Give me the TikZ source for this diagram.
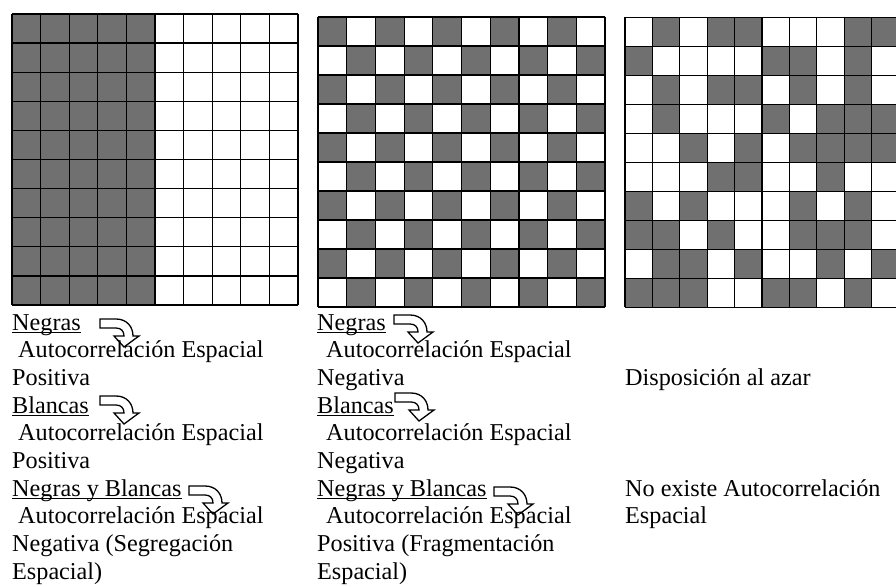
\documentclass[tikz,border=0pt]{standalone}
\usepackage{fontspec}
\setmainfont{Liberation Serif}
\definecolor{cellgray}{RGB}{112,112,112}
\tikzset{
  gridline/.style={draw=black, line width=1.2pt},
  txt/.style={anchor=base west, inner sep=0pt, font=\fontsize{24.2}{27.7}\selectfont},
  ulline/.style={line width=1.1pt},
  curvarrow/.pic={
    \draw[fill=white, line width=1.3pt, line join=miter]
      (0,0) -- (16,0) .. controls (27,0) and (33,8) .. (33,17)
      -- (39,17) -- (24,28) -- (14,17) -- (24,17)
      .. controls (24,12) and (21,9) .. (16,9) -- (0,9) -- cycle;
  }
}
\begin{document}
\begin{tikzpicture}[x=1pt, y=-1pt]
\useasboundingbox (0,0) rectangle (896,586);
\clip (0,0) rectangle (896,586);
\fill[white] (0,0) rectangle (896,586);

% Grid 1: left half dark
\begin{scope}[shift={(12,14)}, x=28.6pt, y=-29.1pt]
  \fill[cellgray] (0,0) rectangle (5,10);
  \foreach \i in {0,...,10} {
    \draw[gridline] (\i,0) -- (\i,10);
    \draw[gridline] (0,\i) -- (10,\i);
  }
\end{scope}

% Grid 2: checkerboard
\begin{scope}[shift={(318,17)}, x=28.7pt, y=-29pt]
  \foreach \r in {0,...,9} {
    \foreach \c in {0,...,9} {
      \pgfmathtruncatemacro\m{mod(\c+\r,2)}
      \ifnum\m=0 \fill[cellgray] (\c,\r) rectangle ++(1,1); \fi
    }
  }
  \foreach \i in {0,...,10} {
    \draw[gridline] (\i,0) -- (\i,10);
    \draw[gridline] (0,\i) -- (10,\i);
  }
\end{scope}

% Grid 3: random
\begin{scope}[shift={(625,17.3)}, x=27.4pt, y=-29pt]
  \foreach \row [count=\r from 0] in {
    {0,1,0,1,1,0,0,0,1,1},
    {1,0,0,0,0,1,1,0,1,0},
    {0,1,0,1,1,0,1,0,1,0},
    {0,1,0,0,0,1,0,1,1,1},
    {0,0,1,0,1,0,1,1,1,1},
    {0,0,0,1,1,0,0,1,0,0},
    {1,0,1,0,0,0,1,0,1,0},
    {1,1,0,1,0,0,1,1,1,0},
    {0,1,1,0,1,0,0,1,0,1},
    {1,1,1,0,0,1,1,0,1,0}} {
    \foreach \v [count=\c from 0] in \row {
      \ifnum\v=1 \fill[cellgray] (\c,\r) rectangle ++(1,1); \fi
    }
  }
  \foreach \i in {0,...,10} {
    \draw[gridline] (\i,0) -- (\i,10);
    \draw[gridline] (0,\i) -- (10,\i);
  }
\end{scope}

% Curved arrows
\pic at (100,319) {curvarrow};
\pic at (100,396) {curvarrow};
\pic at (189,486) {curvarrow};
\pic at (394,315) {curvarrow};
\pic at (395,393) {curvarrow};
\pic at (494,487) {curvarrow};

% Column 1 text
\node[txt] (a1) at (12,330) {Negras};
\node[txt] (a2) at (18,357.7) {Autocorrelación Espacial};
\node[txt] (a3) at (12,385.4) {Positiva};
\node[txt] (a4) at (12,413.1) {Blancas};
\node[txt] (a5) at (18,440.8) {Autocorrelación Espacial};
\node[txt] (a6) at (12,468.5) {Positiva};
\node[txt] (a7) at (12,496.2) {Negras y Blancas};
\node[txt] (a8) at (18,523.9) {Autocorrelación Espacial};
\node[txt] (a9) at (12,551.6) {Negativa (Segregación};
\node[txt] (a10) at (12,579.3) {Espacial)};

% Column 2 text
\node[txt] (b1) at (317,330) {Negras};
\node[txt] (b2) at (326,357.7) {Autocorrelación Espacial};
\node[txt] (b3) at (317,385.4) {Negativa};
\node[txt] (b4) at (317,413.1) {Blancas};
\node[txt] (b5) at (326,440.8) {Autocorrelación Espacial};
\node[txt] (b6) at (317,468.5) {Negativa};
\node[txt] (b7) at (317,496.2) {Negras y Blancas};
\node[txt] (b8) at (326,523.9) {Autocorrelación Espacial};
\node[txt] (b9) at (317,551.6) {Positiva (Fragmentación};
\node[txt] (b10) at (317,579.3) {Espacial)};

% Column 3 text
\node[txt] (c1) at (625,385.4) {Disposición al azar};
\node[txt] (c2) at (625,496.2) {No existe Autocorrelación};
\node[txt] (c3) at (625,523.9) {Espacial};

% Underlines
\foreach \n in {a1,a4,a7,b1,b4,b7} {
  \draw[ulline] ([yshift=-2.5pt]\n.base west) -- ([yshift=-2.5pt]\n.base east);
}
\end{tikzpicture}
\end{document}
